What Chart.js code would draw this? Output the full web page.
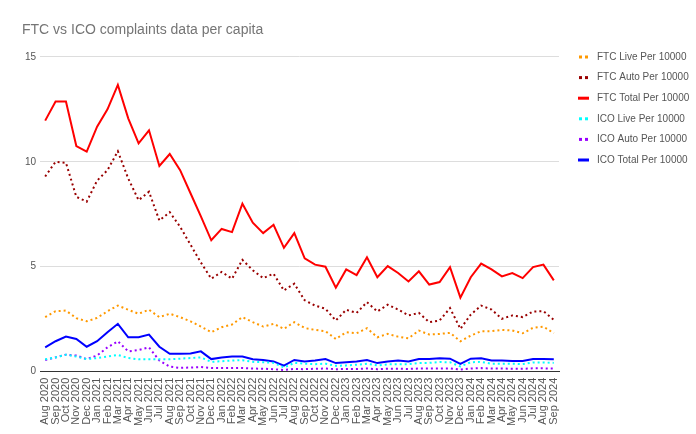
<!DOCTYPE html>
<html>
<head>
<meta charset="utf-8">
<title>FTC vs ICO complaints data per capita</title>
<script src="https://cdn.jsdelivr.net/npm/chart.js@4.4.1/dist/chart.umd.min.js"></script>
<style>
    html, body { margin: 0; padding: 0; background: #ffffff; }
    #wrap { width: 696px; height: 434px; position: relative; }
</style>
</head>
<body>
<div id="wrap"><canvas id="chart"></canvas></div>
<script>
// Month labels on the x axis
const months = [
    'Aug 2020', 'Sep 2020', 'Oct 2020', 'Nov 2020', 'Dec 2020',
    'Jan 2021', 'Feb 2021', 'Mar 2021', 'Apr 2021', 'May 2021', 'Jun 2021',
    'Jul 2021', 'Aug 2021', 'Sep 2021', 'Oct 2021', 'Nov 2021', 'Dec 2021',
    'Jan 2022', 'Feb 2022', 'Mar 2022', 'Apr 2022', 'May 2022', 'Jun 2022',
    'Jul 2022', 'Aug 2022', 'Sep 2022', 'Oct 2022', 'Nov 2022', 'Dec 2022',
    'Jan 2023', 'Feb 2023', 'Mar 2023', 'Apr 2023', 'May 2023', 'Jun 2023',
    'Jul 2023', 'Aug 2023', 'Sep 2023', 'Oct 2023', 'Nov 2023', 'Dec 2023',
    'Jan 2024', 'Feb 2024', 'Mar 2024', 'Apr 2024', 'May 2024', 'Jun 2024',
    'Jul 2024', 'Aug 2024', 'Sep 2024'
];

// Values per 10000
const ftcLive = [2.6, 2.88, 2.91, 2.55, 2.4, 2.56, 2.88, 3.15, 2.95, 2.76, 2.95, 2.6, 2.76,
    2.6, 2.4, 2.15, 1.88, 2.12, 2.25, 2.6, 2.36, 2.15, 2.28, 2.04, 2.36, 2.08, 1.99, 1.93,
    1.56, 1.88, 1.83, 2.07, 1.64, 1.8, 1.67, 1.59, 1.96, 1.77, 1.8, 1.85, 1.45, 1.72, 1.93,
    1.93, 1.99, 1.96, 1.83, 2.09, 2.15, 1.83];
const ftcAuto = [9.3, 10.0, 9.95, 8.33, 8.1, 9.1, 9.6, 10.5, 9.2, 8.17, 8.57, 7.2, 7.6,
    6.9, 6.05, 5.2, 4.43, 4.75, 4.43, 5.33, 4.83, 4.46, 4.67, 3.87, 4.19, 3.4, 3.15, 3.0,
    2.44, 2.95, 2.8, 3.31, 2.87, 3.19, 2.96, 2.68, 2.8, 2.36, 2.44, 3.03, 2.04, 2.72, 3.15,
    2.96, 2.52, 2.68, 2.6, 2.87, 2.88, 2.47];
const ftcTotal = [11.96, 12.87, 12.87, 10.75, 10.48, 11.67, 12.5, 13.66, 12.07, 10.88, 11.5,
    9.8, 10.37, 9.6, 8.5, 7.4, 6.26, 6.8, 6.65, 8.0, 7.1, 6.6, 7.0, 5.9, 6.6, 5.4, 5.1, 5.0,
    4.0, 4.87, 4.6, 5.45, 4.5, 5.03, 4.7, 4.3, 4.78, 4.15, 4.27, 4.98, 3.53, 4.5, 5.15,
    4.87, 4.54, 4.7, 4.46, 4.98, 5.1, 4.35];
const icoLive = [0.59, 0.68, 0.81, 0.72, 0.6, 0.65, 0.72, 0.8, 0.65, 0.59, 0.59, 0.59, 0.59,
    0.62, 0.65, 0.68, 0.47, 0.5, 0.53, 0.55, 0.47, 0.45, 0.42, 0.2, 0.42, 0.38, 0.36, 0.38,
    0.28, 0.3, 0.33, 0.38, 0.3, 0.35, 0.36, 0.36, 0.42, 0.42, 0.46, 0.45, 0.25, 0.45, 0.47,
    0.38, 0.38, 0.38, 0.36, 0.44, 0.44, 0.42];
const icoAuto = [0.56, 0.68, 0.81, 0.77, 0.6, 0.77, 1.16, 1.45, 0.97, 1.03, 1.16, 0.53, 0.24,
    0.18, 0.2, 0.22, 0.18, 0.17, 0.17, 0.18, 0.15, 0.14, 0.12, 0.08, 0.13, 0.12, 0.14, 0.15,
    0.12, 0.13, 0.13, 0.15, 0.12, 0.14, 0.14, 0.13, 0.15, 0.15, 0.15, 0.16, 0.1, 0.15, 0.17,
    0.15, 0.15, 0.14, 0.14, 0.16, 0.16, 0.15];
const icoTotal = [1.16, 1.45, 1.67, 1.56, 1.19, 1.45, 1.88, 2.28, 1.64, 1.64, 1.77, 1.19, 0.85,
    0.85, 0.87, 0.97, 0.6, 0.68, 0.72, 0.72, 0.59, 0.56, 0.49, 0.29, 0.56, 0.49, 0.53, 0.6,
    0.41, 0.45, 0.49, 0.56, 0.41, 0.49, 0.53, 0.49, 0.6, 0.6, 0.64, 0.62, 0.37, 0.62, 0.64,
    0.53, 0.53, 0.51, 0.51, 0.6, 0.6, 0.59];

const seriesNames = ['FTC Live Per 10000', 'FTC Auto Per 10000', 'FTC Total Per 10000',
    'ICO Live Per 10000', 'ICO Auto Per 10000', 'ICO Total Per 10000'];
const seriesColors = ['#ff9900', '#990000', '#ff0000', '#00ffff', '#9900ff', '#0000ff'];
const seriesDotted = [true, true, false, true, true, false];
const yTicks = [0, 5, 10, 15];

const FONT = '"Liberation Sans", Arial, sans-serif';

function makeDataset(i, values) {
    return {
        label: seriesNames[i],
        data: values,
        borderColor: seriesColors[i],
        backgroundColor: seriesColors[i],
        borderWidth: 2,
        borderDash: seriesDotted[i] ? [2, 3] : [],
        pointRadius: 0,
        tension: 0,
        fill: false
    };
}

// Google-style legend on the right: two dots for dotted series, a short bar for solid ones
const sideLegend = {
    id: 'sideLegend',
    afterDraw(chart) {
        const ctx = chart.ctx;
        ctx.save();
        ctx.font = '10px ' + FONT;
        ctx.textBaseline = 'middle';
        chart.data.datasets.forEach((ds, i) => {
            const y = 57 + i * 20.6;
            ctx.fillStyle = seriesColors[i];
            if (seriesDotted[i]) {
                ctx.fillRect(579, y - 1.5, 3, 3);
                ctx.fillRect(585, y - 1.5, 3, 3);
            } else {
                ctx.fillRect(578, y - 1.5, 11, 3);
            }
            ctx.fillStyle = '#555555';
            ctx.fillText(ds.label, 597, y);
        });
        ctx.restore();
    }
};

const ctx = document.getElementById('chart');

new Chart(ctx, {
    type: 'line',
    data: {
        labels: months,
        datasets: [
            makeDataset(0, ftcLive),
            makeDataset(1, ftcAuto),
            makeDataset(2, ftcTotal),
            makeDataset(3, icoLive),
            makeDataset(4, icoAuto),
            makeDataset(5, icoTotal)
        ]
    },
    options: {
        responsive: true,
        maintainAspectRatio: false,
        animation: false,
        layout: {
            padding: { left: 22, right: 137, top: 0, bottom: 2 }
        },
        plugins: {
            legend: { display: false },
            tooltip: { enabled: false },
            title: {
                display: true,
                text: 'FTC vs ICO complaints data per capita',
                align: 'start',
                color: '#757575',
                font: { family: FONT, size: 14, weight: 'normal' },
                padding: { top: 22, bottom: 18 }
            }
        },
        scales: {
            x: {
                offset: true,
                grid: { display: false, drawTicks: false },
                border: { color: '#333333', width: 1 },
                ticks: {
                    autoSkip: false,
                    maxRotation: 90,
                    minRotation: 90,
                    padding: 6,
                    color: '#555555',
                    font: { family: FONT, size: 11 }
                }
            },
            y: {
                min: 0,
                max: 15,
                afterBuildTicks(axis) {
                    axis.ticks = yTicks.map(v => ({ value: v }));
                },
                afterFit(axis) {
                    axis.width = 18;
                },
                grid: {
                    color: '#dddddd',
                    drawTicks: false
                },
                border: { display: false },
                ticks: {
                    padding: 4,
                    color: '#555555',
                    font: { family: FONT, size: 10 }
                }
            }
        }
    },
    plugins: [sideLegend]
});
</script>
</body>
</html>
